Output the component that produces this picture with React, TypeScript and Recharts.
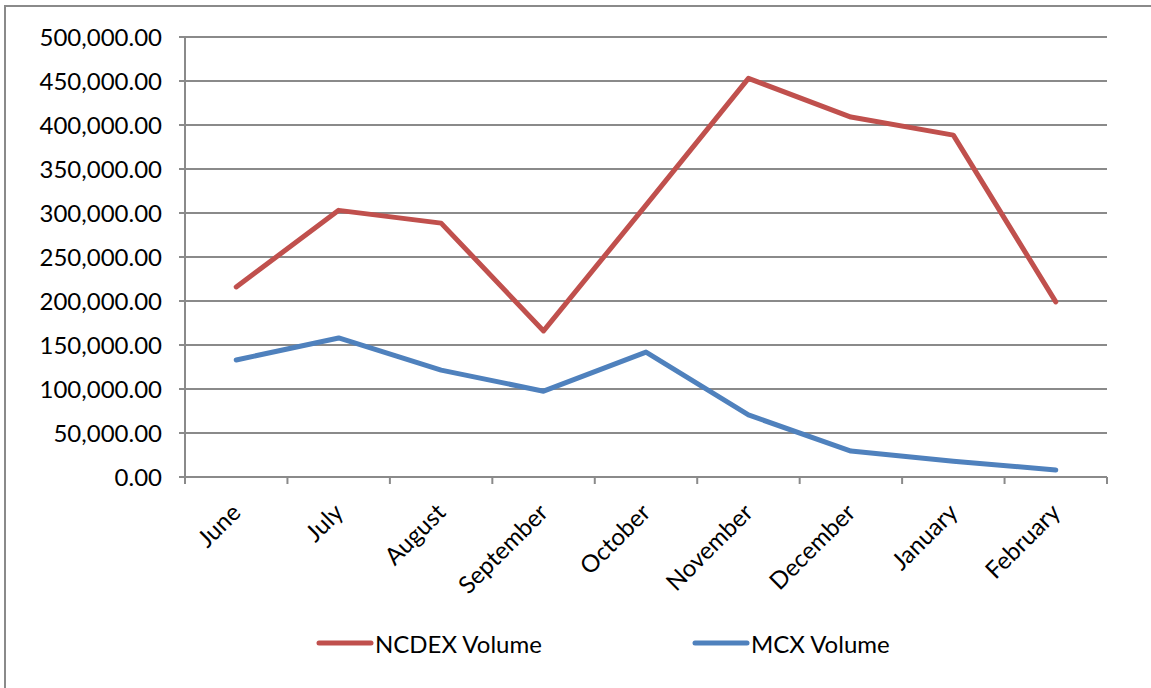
import { Legend, Line, LineChart, CartesianGrid, XAxis, YAxis } from 'recharts'

const MONTHS = ['June', 'July', 'August', 'September', 'October', 'November', 'December', 'January', 'February']
const NCDEX_VOLUME = [216000, 303000, 288500, 166000, 309000, 453000, 409000, 388500, 199000]
const MCX_VOLUME = [133000, 158000, 121500, 97500, 142000, 70500, 29500, 18000, 8000]
const Y_TICKS = [0, 50000, 100000, 150000, 200000, 250000, 300000, 350000, 400000, 450000, 500000]

const COLORS = {
  ncdex: '#c0504d',
  mcx: '#4f81bd',
  axis: '#8a8a8a',
  text: '#000000',
} as const

const FONT = 'Lato, "Open Sans", sans-serif'
const FONT_SIZE = 24

// band edges and band centres on a 0..9 scale, so tick marks sit between months like the original
const bandEdges = MONTHS.map((_, i) => i).concat(MONTHS.length)
const bandCentres = MONTHS.map((_, i) => i + 0.5)

const data = MONTHS.map((month, i) => ({
  month,
  pos: i + 0.5,
  ncdex: NCDEX_VOLUME[i],
  mcx: MCX_VOLUME[i],
}))

const formatVolume = (v: number) =>
  v.toLocaleString('en-US', { minimumFractionDigits: 2, maximumFractionDigits: 2 })

function MonthTick(props: any) {
  const { x, y, payload } = props
  const ax = x + 6
  const ay = y + 30
  return (
    <text
      x={ax}
      y={ay}
      textAnchor="end"
      transform={`rotate(-45, ${ax}, ${ay})`}
      fill={COLORS.text}
      fontSize={FONT_SIZE}
      fontFamily={FONT}
    >
      {MONTHS[Math.floor(payload.value)]}
    </text>
  )
}

function LegendBox() {
  const items = [
    { label: 'NCDEX Volume', color: COLORS.ncdex },
    { label: 'MCX Volume', color: COLORS.mcx },
  ]
  return (
    <div style={{ display: 'flex', alignItems: 'center', height: 60, paddingLeft: 316 }}>
      {items.map((item) => (
        <div key={item.label} style={{ display: 'flex', alignItems: 'center', width: 376 }}>
          <svg width={58} height={10} style={{ marginRight: 1 }}>
            <line x1={3} y1={5} x2={55} y2={5} stroke={item.color} strokeWidth={5} strokeLinecap="round" />
          </svg>
          <span style={{ fontFamily: FONT, fontSize: FONT_SIZE, color: COLORS.text }}>{item.label}</span>
        </div>
      ))}
    </div>
  )
}

export default function App() {
  return (
    <div style={{ position: 'absolute', left: 0, top: 0, width: 1151, height: 688, background: '#fff', overflow: 'hidden' }}>
      <div
        style={{
          position: 'absolute',
          left: 4,
          top: 5,
          width: 1300,
          height: 900,
          border: `2px solid ${COLORS.axis}`,
        }}
      />
      <LineChart
        width={1151}
        height={688}
        data={data}
        margin={{ top: 37, right: 44, bottom: 15, left: 0 }}
        style={{ position: 'absolute', left: 0, top: 0 }}
      >
        <CartesianGrid horizontal vertical={false} stroke={COLORS.axis} strokeWidth={2} />
        <XAxis
          xAxisId="edges"
          type="number"
          dataKey="pos"
          domain={[0, 9]}
          allowDataOverflow
          ticks={bandEdges}
          interval={0}
          height={7}
          tickSize={7}
          tickFormatter={() => ''}
          stroke={COLORS.axis}
          strokeWidth={2}
        />
        <XAxis
          xAxisId="labels"
          type="number"
          dataKey="pos"
          domain={[0, 9]}
          allowDataOverflow
          ticks={bandCentres}
          interval={0}
          height={129}
          axisLine={false}
          tickLine={false}
          tickSize={0}
          tickMargin={0}
          tick={<MonthTick />}
        />
        <YAxis
          type="number"
          domain={[0, 500000]}
          ticks={Y_TICKS}
          interval={0}
          width={185}
          tickSize={6}
          tickMargin={17}
          tickFormatter={formatVolume}
          stroke={COLORS.axis}
          strokeWidth={2}
          tick={{ fill: COLORS.text, fontSize: FONT_SIZE, fontFamily: FONT }}
        />
        <Legend verticalAlign="bottom" wrapperStyle={{ left: 0, width: 1151 }} content={<LegendBox />} />
        <Line
          xAxisId="edges"
          dataKey="ncdex"
          name="NCDEX Volume"
          stroke={COLORS.ncdex}
          strokeWidth={5}
          strokeLinecap="round"
          strokeLinejoin="round"
          dot={false}
          type="linear"
          isAnimationActive={false}
        />
        <Line
          xAxisId="edges"
          dataKey="mcx"
          name="MCX Volume"
          stroke={COLORS.mcx}
          strokeWidth={5}
          strokeLinecap="round"
          strokeLinejoin="round"
          dot={false}
          type="linear"
          isAnimationActive={false}
        />
      </LineChart>
    </div>
  )
}
